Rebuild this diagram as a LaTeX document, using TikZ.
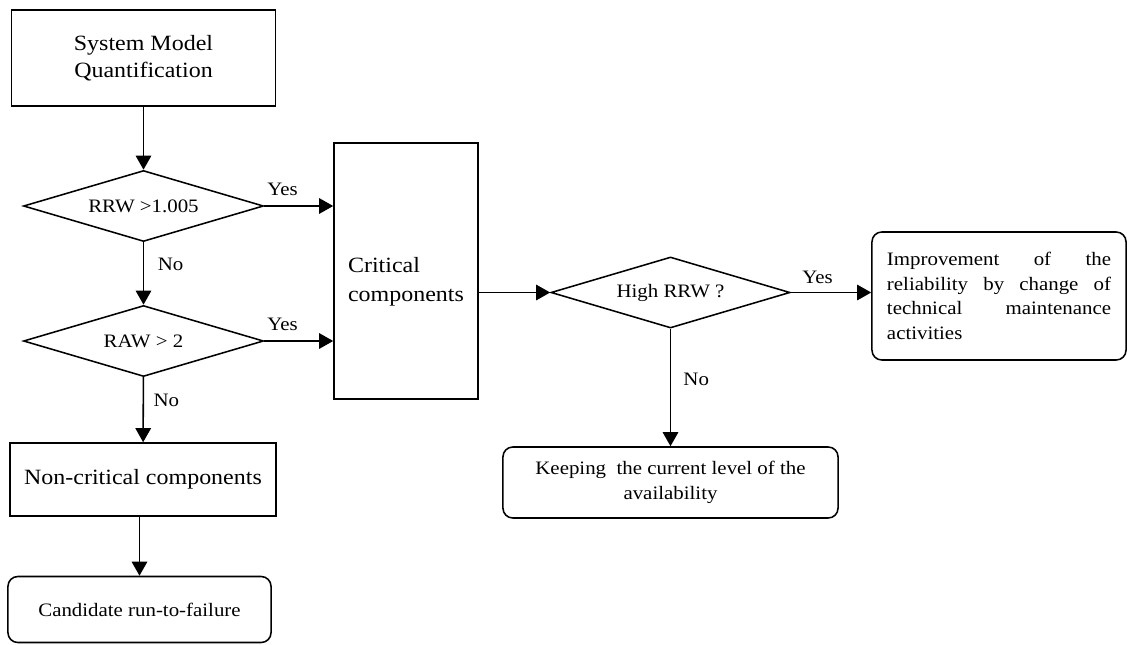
\documentclass[tikz,border=0pt]{standalone}
\usepackage{fontspec}
\setmainfont[FakeStretch=1.1]{Liberation Serif}
\usepackage{tikz}
\usetikzlibrary{arrows.meta,positioning,shapes.geometric}

\tikzset{
  box/.style={draw, line width=1.1pt, inner sep=2pt, align=center},
  bigtext/.style={font=\fontsize{15.5}{19}\selectfont},
  smalltext/.style={font=\fontsize{13.5}{17.5}\selectfont},
  roundbox/.style={box, smalltext, rounded corners=7pt},
  decision/.style={draw, line width=1.1pt, diamond, aspect=3.4, inner sep=0pt,
    minimum width=6cm, minimum height=1.775cm, smalltext},
  lbl/.style={inner sep=0pt, smalltext},
  flow/.style={-{Triangle[length=10pt,width=11pt]}, line width=1.1pt}
}

\begin{document}
\begin{tikzpicture}[x=0.025cm, y=-0.025cm]
  \useasboundingbox (0,0) rectangle (1127,645);

  % left column
  \node[box, bigtext, minimum width=6.6cm, minimum height=2.4cm] (sysq) at (143.5,58) {System Model\\Quantification};
  \node[decision] (rrw) at (143.5,206) {RRW >1.005};
  \node[decision] (raw) at (143.5,341) {RAW > 2};
  \node[box, bigtext, minimum width=6.65cm, minimum height=1.825cm] (noncrit) at (143,479.5) {Non-critical components};
  \node[roundbox, minimum width=6.575cm, minimum height=1.65cm] (cand) at (139.5,609.5) {Candidate run-to-failure};

  % middle and right
  \node[box, font=\fontsize{15.5}{20}\selectfont, align=left, text height=46pt,
    minimum width=3.6cm, minimum height=6.4cm] (crit) at (406,271) {Critical\\components};
  \node[decision, minimum width=5.975cm] (highrrw) at (670.5,292.5) {High RRW ?};
  \node[roundbox, text width=5.6cm, align=justify, inner xsep=0.375cm, minimum height=3.2cm] (improve) at (999,296)
    {\hyphenchar\font=-1 Improvement of the reliability by change of technical maintenance activities};
  \node[roundbox, minimum width=8.375cm, minimum height=1.775cm, inner sep=0pt] (keep) at (670.5,482.5)
    {Keeping\ \ the current level of the\\availability};

  % connectors
  \draw[flow] (sysq) -- (rrw);
  \draw[flow] (rrw) -- (raw);
  \draw[flow] (raw) -- (noncrit);
  \draw[flow] (noncrit.south -| cand.north) -- (cand.north);
  \draw[flow] (rrw.east) -- (rrw.east -| crit.west);
  \draw[flow] (raw.east) -- (raw.east -| crit.west);
  \draw[flow] (crit.east |- highrrw.west) -- (highrrw.west);
  \draw[flow] (highrrw.east) -- (highrrw.east -| improve.west);
  \draw[flow] (highrrw.south) -- (highrrw.south |- keep.north);

  % branch labels
  \node[lbl, above right=7pt and 2pt of rrw.east] (yes1) {Yes};
  \node[lbl, above right=7pt and 2pt of raw.east] (yes2) {Yes};
  \node[lbl, above right=6pt and 8pt of highrrw.east] (yes3) {Yes};
  \node[lbl, below right=11pt and 10pt of rrw.south] (no1) {No};
  \node[lbl, below right=12pt and 7pt of raw.south] (no2) {No};
  \node[lbl, below right=31pt and 9pt of highrrw.south] (no3) {No};
\end{tikzpicture}
\end{document}
